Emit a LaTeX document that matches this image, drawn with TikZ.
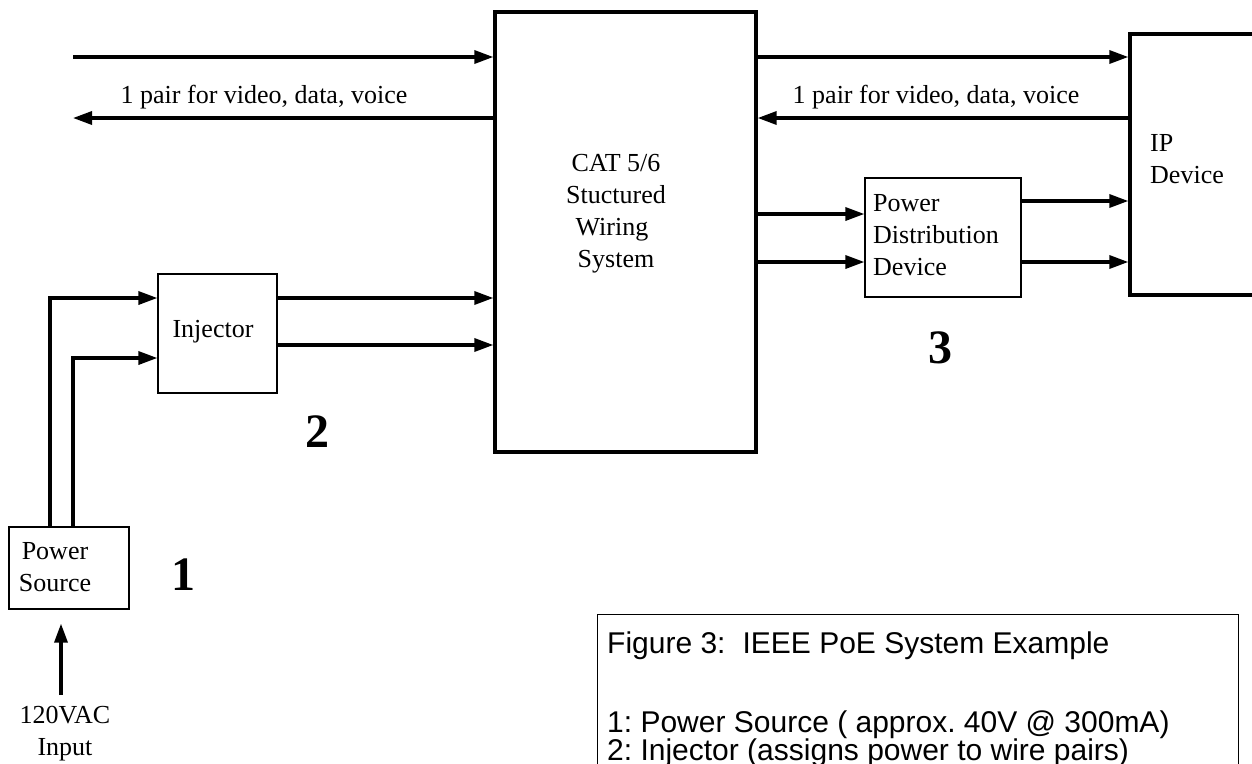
\documentclass[tikz,border=0pt]{standalone}
\usepackage{fontspec}
\setmainfont{Liberation Serif}
\newfontfamily\legendfont{Liberation Sans}
\usetikzlibrary{arrows.meta}
\begin{document}
\frenchspacing
\begin{tikzpicture}[x=1pt,y=-1pt,
  wire/.style={line width=3.3pt,-{Triangle[length=19pt,width=13pt]}},
  heavybox/.style={draw,line width=3.3pt,inner sep=0pt},
  thinbox/.style={draw,line width=1.2pt,inner sep=0pt},
  lbl/.style={font=\fontsize{26}{32}\selectfont,inner sep=0pt},
  num/.style={font=\fontsize{48}{48}\selectfont\bfseries,inner sep=0pt},
  legendline/.style={font=\legendfont\fontsize{30}{30}\selectfont,anchor=base west,inner sep=0pt}]
\useasboundingbox (0,0) rectangle (1252,763);
\clip (0,0) rectangle (1252,763);

% blocks
\node[heavybox,minimum width=261pt,minimum height=440pt] (cat) at (625.5,232) {};
\node[heavybox,minimum width=170pt,minimum height=261pt] (ip) at (1215,164.5) {};
\node[thinbox,minimum width=156pt,minimum height=119pt] (pdd) at (943,237.5) {};
\node[thinbox,minimum width=119pt,minimum height=119pt] (inj) at (217.5,333.5) {};
\node[thinbox,minimum width=120pt,minimum height=82pt] (ps) at (69,568) {};
\node[thinbox,minimum width=641pt,minimum height=200pt,anchor=north west] (legend) at (597,614) {};

% block texts
\node[lbl,align=center] (cattxt) at (616,214) {CAT 5/6\\Stuctured\\\hspace*{-8pt}Wiring\\System};
\node[lbl,align=left,anchor=west] (iptxt) at (1150,159) {IP\\Device};
\node[lbl,align=left,anchor=west] (pddtxt) at (873,235) {Power\\Distribution\\Device};
\node[lbl] (injtxt) at (213,332) {Injector};
\node[lbl,align=center] (pstxt) at (55,567) {Power\\Source};
\node[lbl,align=center] (actxt) at (65,734) {120VAC\\Input};

% step numbers
\node[num] (n1) at (183,575) {1};
\node[num] (n2) at (317,432) {2};
\node[num] (n3) at (940,348) {3};

% helper rows
\coordinate (inA) at (73,57);
\coordinate (outA) at (73,118);
\coordinate (pA) at (50,298);
\coordinate (pB) at (73,358);
\coordinate (jB) at (0,345);
\coordinate (dA) at (0,214);
\coordinate (dB) at (0,262);
\coordinate (eA) at (0,201);
\coordinate (acin) at (61,695);

% data pairs on the left
\draw[wire] (inA) -- (cat.west |- inA);
\draw[wire] (cat.west |- outA) -- (outA);
\node[lbl] (pairL) at (264,97) {1 pair for video, data, voice};

% data pairs on the right
\draw[wire] (cat.east |- inA) -- (ip.west |- inA);
\draw[wire] (ip.west |- outA) -- (cat.east |- outA);
\node[lbl] (pairR) at (936,97) {1 pair for video, data, voice};

% power path
\draw[wire] (acin) -- ([yshift=-14pt]ps.south -| acin);
\draw[wire] (ps.north -| pA) -- (pA) -- (inj.west |- pA);
\draw[wire] (ps.north -| pB) -- (pB) -- (inj.west |- pB);
\draw[wire] (inj.east |- pA) -- (cat.west |- pA);
\draw[wire] (inj.east |- jB) -- (cat.west |- jB);
\draw[wire] (cat.east |- dA) -- (pdd.west |- dA);
\draw[wire] (cat.east |- dB) -- (pdd.west |- dB);
\draw[wire] (pdd.east |- eA) -- (ip.west |- eA);
\draw[wire] (pdd.east |- dB) -- (ip.west |- dB);

% caption
\node[legendline] (cap0) at (607,653) {Figure 3:\hspace{17pt}IEEE PoE System Example};
\node[legendline] (cap1) at (607,732) {1: Power Source ( approx. 40V @ 300mA)};
\node[legendline] (cap2) at (607,760) {2: Injector (assigns power to wire pairs)};
\end{tikzpicture}
\end{document}
